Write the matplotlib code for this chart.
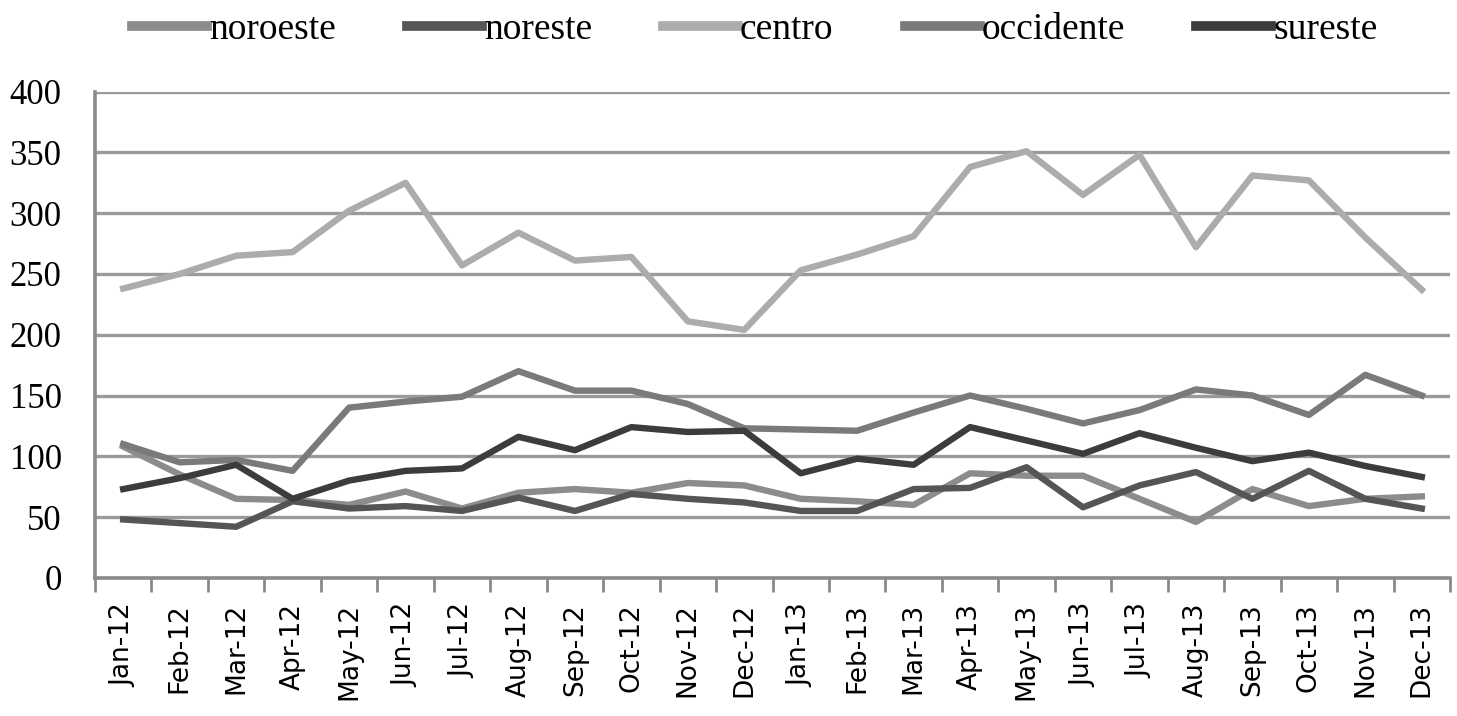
import numpy as np
from matplotlib import pyplot as plt

# month labels
months = ['Jan-12', 'Feb-12', 'Mar-12', 'Apr-12', 'May-12', 'Jun-12',
          'Jul-12', 'Aug-12', 'Sep-12', 'Oct-12', 'Nov-12', 'Dec-12',
          'Jan-13', 'Feb-13', 'Mar-13', 'Apr-13', 'May-13', 'Jun-13',
          'Jul-13', 'Aug-13', 'Sep-13', 'Oct-13', 'Nov-13', 'Dec-13']

# values
noroeste = [108, 85, 65, 64, 60, 71, 57, 70, 73, 70, 78, 76,
            65, 63, 60, 86, 84, 84, 65, 46, 73, 59, 65, 67]
noreste = [48, 45, 42, 63, 57, 59, 55, 66, 55, 69, 65, 62,
           55, 55, 73, 74, 91, 58, 76, 87, 65, 88, 65, 57]
centro = [238, 250, 265, 268, 302, 325, 257, 284, 261, 264, 211, 204,
          253, 266, 281, 338, 351, 315, 348, 272, 331, 327, 280, 237]
occidente = [110, 95, 97, 88, 140, 145, 149, 170, 154, 154, 143, 123,
             122, 121, 136, 150, 139, 127, 138, 155, 150, 134, 167, 150]
sureste = [73, 82, 93, 65, 80, 88, 90, 116, 105, 124, 120, 121,
           86, 98, 93, 124, 113, 102, 119, 107, 96, 103, 92, 83]

names = ['noroeste', 'noreste', 'centro', 'occidente', 'sureste']
series = [noroeste, noreste, centro, occidente, sureste]
colors = ['#8c8c8c', '#555555', '#acacac', '#7a7a7a', '#3c3c3c']

fig = plt.figure(figsize=(14.57, 7.16), dpi=100)
ax = fig.add_axes([0.0652, 0.193, 0.93, 0.679])

x = np.arange(len(months))
for name, vals, c in zip(names, series, colors):
    ax.plot(x, vals, color=c, lw=4.6, label=name)

ax.set_xlim(-0.5, len(months) - 0.5)
ax.set_ylim(0, 400)
ax.set_yticks(range(0, 401, 50))
ax.yaxis.grid(True, color='#9a9a9a', lw=2.4)
ax.set_axisbelow(True)

ax.set_xticks(x)
ax.set_xticklabels(months, rotation=90, fontsize=19, family='DejaVu Sans')
ax.set_xticks(np.arange(-0.5, len(months)), minor=True)
ax.tick_params(axis='x', which='major', length=0, pad=18)
ax.tick_params(axis='x', which='minor', length=10, width=2, color='#8a8a8a')
ax.tick_params(axis='y', length=0, pad=24, labelsize=25)
for lab in ax.get_yticklabels():
    lab.set_family('Liberation Serif')

for s in ['top', 'right']:
    ax.spines[s].set_visible(False)
for s in ['left', 'bottom']:
    ax.spines[s].set_color('#8a8a8a')
    ax.spines[s].set_linewidth(2.6)

leg = fig.legend(loc='upper center', bbox_to_anchor=(0.518, 1.03), ncol=5,
                 frameon=False, handlelength=2.0, handletextpad=0.05,
                 columnspacing=1.9, prop={'family': 'Liberation Serif', 'size': 27})
for line in leg.get_lines():
    line.set_linewidth(7)

fig.savefig('out.png', dpi=100)
